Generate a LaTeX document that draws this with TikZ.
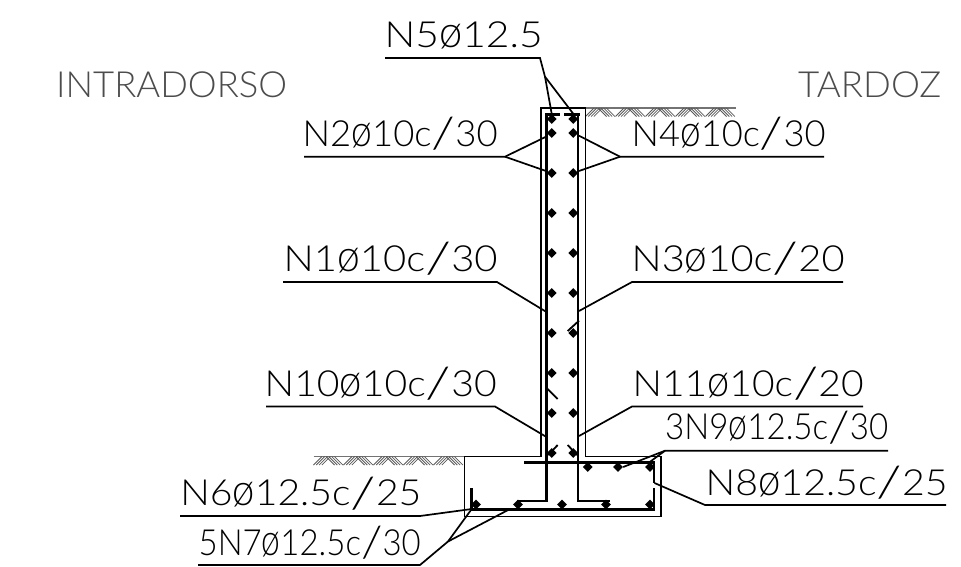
\documentclass[tikz,border=0pt]{standalone}
\usepackage{fontspec}
\setmainfont{Lato Light}
\usetikzlibrary{shapes.geometric}
\tikzset{
  conc/.style={line width=1.6pt,draw=black},
  bar/.style={line width=2.8pt,draw=black},
  kink/.style={line width=1.8pt,draw=black},
  leader/.style={line width=1.7pt,draw=black},
  rebar/.style={diamond,fill=black,inner sep=0pt,minimum size=10pt},
  lab/.style={anchor=base west,inner sep=0pt,text=black,font=\fontsize{36}{36}\selectfont},
  plainlab/.style={lab,text=black!70},
  hatchline/.style={line width=0.8pt,draw=black!65},
  soilline/.style={line width=1.5pt,draw=black!55},
}
\newcommand{\wdt}[2]{\resizebox{#1pt}{\height}{#2}}
\newcommand{\dia}{\scalebox{1.02}[1.22]{ø}}
\newcommand{\slh}{\raisebox{-.08em}{\scalebox{1.5}[1.2]{/}}}
\newcommand{\soil}[2]{%
  \draw[soilline] (#1,#2) -- ++(150.5,0);
  \foreach \k in {0,...,4}{
    \foreach \i in {0,2.8,5.6,8.4}{
      \draw[hatchline] ({#1+\k*30+\i},{#2+8.5}) -- ++(8.5,-8.5);
      \draw[hatchline] ({#1+\k*30+12.5+\i},{#2}) -- ++(8.5,8.5);
    }
  }
}
\begin{document}
\begin{tikzpicture}[x=1pt,y=-1pt]
\useasboundingbox[fill=white] (0,0) rectangle (961,566);
% soil
\soil{585.5}{108}
\soil{313.5}{456.5}
% concrete
\draw[conc] (541,456.5) -- (541,108) -- (585.5,108) -- (585.5,456.5) -- (661,456.5) -- (661,516.5) -- (464.5,516.5) -- (464.5,456.5) -- cycle;
\fill[white] (542,455.2) rectangle (584.6,457.8);
% reinforcement
\draw[bar] (546.7,113) -- (546.7,501) -- (517,501);
\draw[bar] (578,113) -- (578,501) -- (610,501);
\draw[bar] (545.2,114.3) -- (560,114.3);
\draw[bar] (564,114.3) -- (579.5,114.3);
\draw[bar] (471.7,488) -- (471.7,509.3) -- (654,509.3) -- (654,487.5);
\draw[bar] (524,462.5) -- (654,462.5) -- (654,483);
\draw[kink] (579,320.7) -- (567.7,331);
\draw[kink] (546.7,388) -- (557.7,399);
\draw[kink] (557.7,445) -- (548,455);
\draw[kink] (567.7,445) -- (577,455);
% rebars in section
\foreach \y [count=\n] in {119,133,173,213,253,293,333,373,413,453}{
  \node[rebar] (l\n) at (551.7,\y) {};
  \node[rebar] (r\n) at (573.3,\y) {};
}
\node[rebar] (t1) at (587.7,467) {};
\node[rebar] (t2) at (618,467) {};
\node[rebar] (t3) at (650,467) {};
\node[rebar] (b1) at (476,504.5) {};
\node[rebar] (b2) at (518,504.5) {};
\node[rebar] (b3) at (562,504.5) {};
\node[rebar] (b4) at (606,504.5) {};
\node[rebar] (b5) at (650,504.5) {};
% labels
\node[lab] (n5) at (384.5,47.7) {\wdt{158}{N5\dia12.5}};
\node[plainlab] (intra) at (56,97) {\wdt{231}{INTRADORSO}};
\node[plainlab] (tard) at (798,97) {\wdt{143}{TARDOZ}};
\node[lab] (n2) at (302.5,146) {\wdt{195}{N2\dia10c\slh30}};
\node[lab] (n4) at (631.5,146) {\wdt{194}{N4\dia10c\slh30}};
\node[lab] (n1) at (283.5,271) {\wdt{214}{N1\dia10c\slh30}};
\node[lab] (n3) at (631.5,271) {\wdt{213}{N3\dia10c\slh20}};
\node[lab] (n10) at (264.5,396) {\wdt{232}{N10\dia10c\slh30}};
\node[lab] (n11) at (632.5,396) {\wdt{231}{N11\dia10c\slh20}};
\node[lab] (n9) at (665,439.5) {\wdt{223}{3N9\dia12.5c\slh30}};
\node[lab] (n8) at (705.5,495) {\wdt{242}{N8\dia12.5c\slh25}};
\node[lab] (n6) at (180.2,505.7) {\wdt{241}{N6\dia12.5c\slh25}};
\node[lab] (n7) at (198.5,555) {\wdt{222}{5N7\dia12.5c\slh30}};
% leader points
\coordinate (a5) at (385,58);  \coordinate (k5) at (540,58); \coordinate (j5) at (545,76.7);
\coordinate (a2) at (304,156.7); \coordinate (k2) at (505,156.7);
\coordinate (a4) at (824,156.7); \coordinate (k4) at (620,156.7);
\coordinate (a1) at (283,282); \coordinate (k1) at (497,282);
\coordinate (a3) at (843,282); \coordinate (k3) at (632,282);
\coordinate (a10) at (266,406.5); \coordinate (k10) at (495,406.5);
\coordinate (a11) at (863,406.5); \coordinate (k11) at (632,406.5);
\coordinate (a9) at (888,450.7); \coordinate (k9) at (665,450.7);
\coordinate (a8) at (946,505); \coordinate (k8) at (705,505);
\coordinate (a6) at (180,516); \coordinate (k6) at (420,516);
\coordinate (a7) at (198,565); \coordinate (k7) at (420,565);
\coordinate (j7) at (448,541.5);
% leaders
\draw[leader] (a5) -- (k5) -- (j5) -- (l1.north);
\draw[leader] (j5) -- (r1.north);
\draw[leader] (a2) -- (k2) -- (546,136.7);
\draw[leader] (k2) -- (546,171);
\draw[leader] (a4) -- (k4) -- (579,135.7);
\draw[leader] (k4) -- (579,171);
\draw[leader] (a1) -- (k1) -- (546,311.7);
\draw[leader] (a3) -- (k3) -- (579,311);
\draw[leader] (a10) -- (k10) -- (546,436.7);
\draw[leader] (a11) -- (k11) -- (579,436);
\draw[leader] (a9) -- (k9) -- (t2.east);
\draw[leader] (k9) -- (t3.north);
\draw[leader] (a8) -- (k8) -- (654.5,483);
\draw[leader] (a6) -- (k6) -- (471.7,509);
\draw[leader] (a7) -- (k7) -- (j7) -- (471.7,509);
\draw[leader] (j7) -- (510,509);
\end{tikzpicture}
\end{document}
